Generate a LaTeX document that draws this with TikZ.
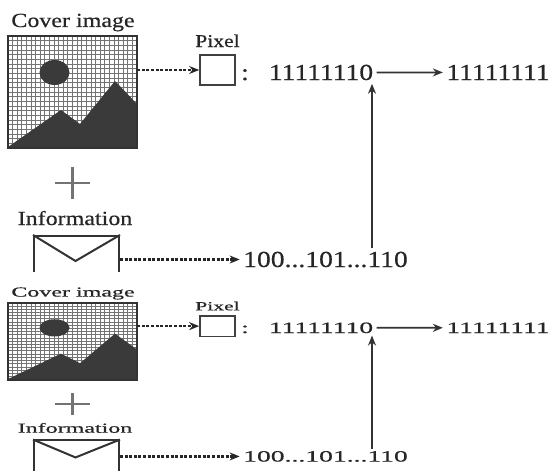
\documentclass[tikz,border=0pt]{standalone}
\usepackage{fontspec}
\setmainfont{Liberation Serif}[FakeStretch=1.2, FakeBold=0.5]
\usetikzlibrary{arrows.meta}

\definecolor{darkink}{HTML}{3A3A3A}
\tikzset{
  ink/.style={draw=black!80, line width=2pt},
  gridline/.style={draw=black!55, line width=0.8pt},
  plussign/.style={draw=black!55, line width=2.6pt},
  txt/.style={font=\fontsize{20}{24}\selectfont, text=black!85},
  pixtxt/.style={font=\fontsize{18}{22}\selectfont, text=black!85},
  bitstxt/.style={font=\fontsize{23}{27}\selectfont, text=black!85},
  pixbox/.style={draw=black!75, line width=1.7pt, minimum width=35pt, minimum height=30pt, inner sep=0pt},
  dotarrow/.style={black!85, line width=2.4pt, dash pattern=on 3pt off 1.6pt, -{Stealth[length=10pt,width=8pt]}},
  solarrow/.style={black!80, line width=1.7pt, -{Stealth[length=10pt,width=8pt]}},
}

\begin{document}
\begin{tikzpicture}[x=1pt, y=-1pt]
  \useasboundingbox (0,0) rectangle (557,471);
  % same panel twice, the lower one squeezed
  \foreach \p/\dy/\sy/\cut in {a/0/1/271, b/278/0.6875/282} {
    \begin{scope}[shift={(0,\dy)}, yscale=\sy, transform shape]
      \clip (0,0) rectangle (557,\cut);
      % cover image: pixel grid, sun, hills
      \node[minimum width=129pt, minimum height=112pt, inner sep=0pt] (cover\p) at (72.5,92) {};
      \foreach \k in {1,...,27} {
        \draw[gridline] ({8+\k*4.607},36) -- ({8+\k*4.607},148);
      }
      \foreach \k in {1,...,23} {
        \draw[gridline] (8,{36+\k*4.667}) -- (137,{36+\k*4.667});
      }
      \fill[darkink] (54.5,72.5) ellipse [x radius=15, y radius=12.5];
      \fill[darkink] (8,147) -- (61,110) -- (80,124) -- (115,81) -- (137,104) -- (137,148) -- (8,148) -- cycle;
      \draw[ink] (cover\p.north west) rectangle (cover\p.south east);
      \node[txt, anchor=base] (title\p) at (73,27) {Cover image};
      % plus
      \draw[plussign] (55,183) -- (90,183) (72.5,167) -- (72.5,199);
      % message envelope
      \node[txt, anchor=base] (info\p) at (75,225) {Information};
      \node[ink, minimum width=85pt, minimum height=60pt, anchor=north west] (env\p) at (33,235) {};
      \draw[ink] (env\p.north west) -- (75.5,261) -- (env\p.north east);
      % pixel and its bits
      \node[pixtxt, anchor=base] (pixlabel\p) at (217.5,47) {Pixel};
      \node[pixbox] (pixel\p) at (217.5,70) {};
      \node[bitstxt, anchor=base] (colon\p) at (245,80) {:};
      \node[bitstxt, anchor=base] (bits\p) at (321,80) {11111110};
      \node[bitstxt, anchor=base] (stego\p) at (498,80) {11111111};
      \node[bitstxt, anchor=base] (msg\p) at (325.5,267) {100...101...110};
      \coordinate (lsb\p) at (372,0);
      % connectors
      \draw[dotarrow] (cover\p.east |- pixel\p.west) -- (pixel\p.west);
      \draw[dotarrow] (env\p.east |- msg\p.west) -- (msg\p.west);
      \draw[solarrow] (bits\p) -- (stego\p);
      \draw[solarrow] (msg\p.north -| lsb\p) -- (bits\p.south -| lsb\p);
    \end{scope}
  }
\end{tikzpicture}
\end{document}
